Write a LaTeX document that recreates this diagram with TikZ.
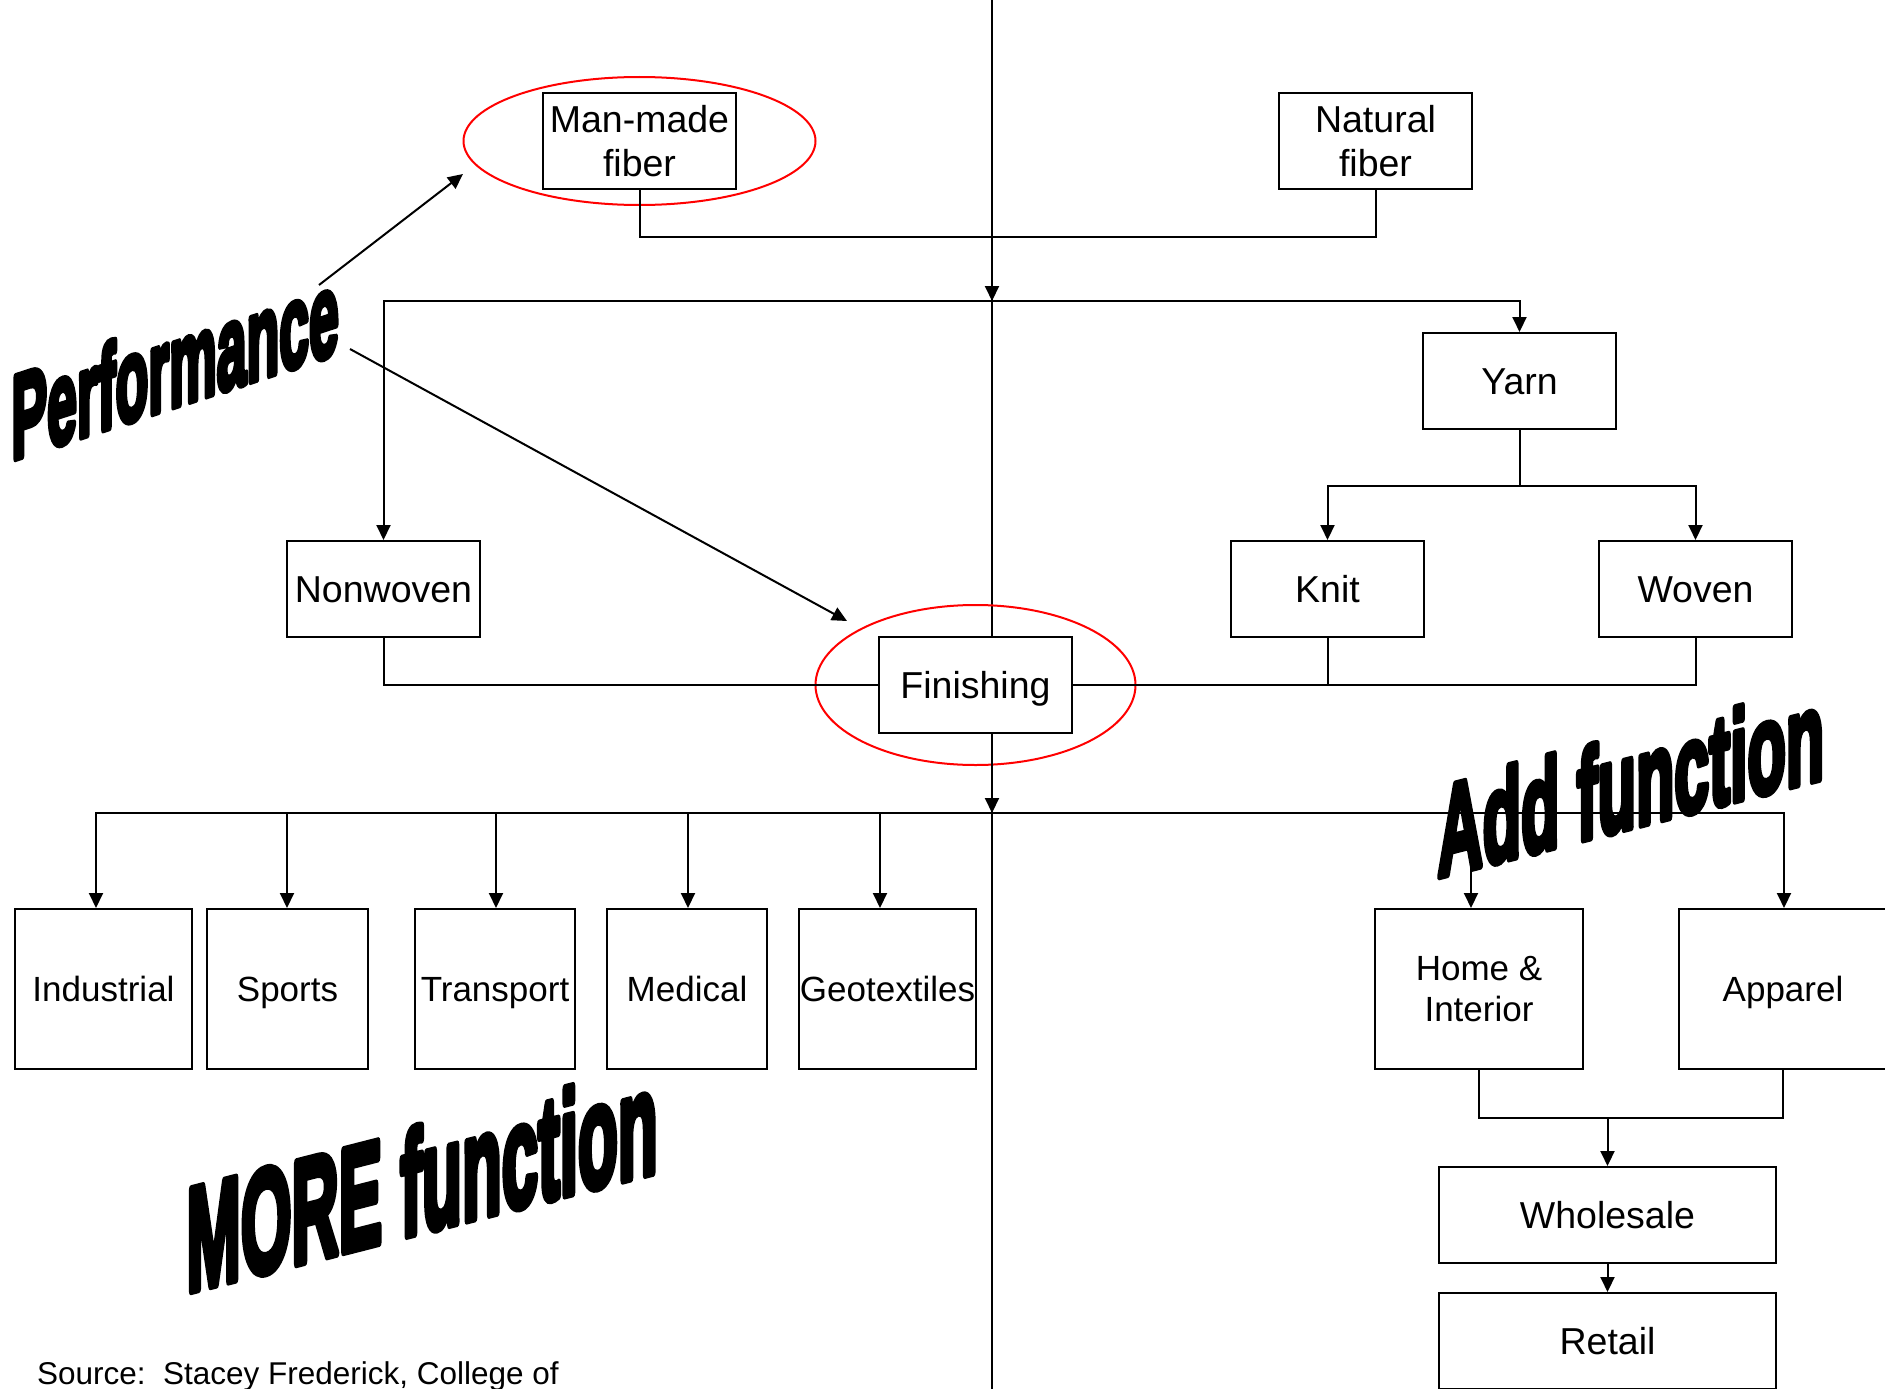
\documentclass[tikz,border=0pt]{standalone}
\usepackage{fontspec}
\setmainfont{Liberation Sans}
\newfontfamily\wordart[FakeBold=6]{Liberation Sans Bold}
\usetikzlibrary{arrows.meta,shapes.geometric}
\begin{document}
\begin{tikzpicture}[x=1pt,y=-1pt,
  line width=2pt,
  box/.style={draw=black, fill=white, line width=2pt, inner sep=0pt, align=center,
    font=\fontsize{35}{43}\selectfont},
  bigtext/.style={font=\fontsize{37.5}{44}\selectfont},
  onebig/.style={bigtext, text height=27pt, text depth=0pt},
  onesmall/.style={text height=25pt, text depth=0pt},
  arr/.style={-{Triangle[length=15pt,width=14pt]}},
  ring/.style={draw=red, line width=2pt, ellipse, inner sep=0pt},
  slanted/.style={transform shape, anchor=base west, inner sep=0pt},
  ]
\useasboundingbox[fill=white] (0,0) rectangle (1885,1389);

% main vertical axis
\coordinate (vtop) at (992,0);
\coordinate (vbot) at (992,1389);
\draw (vtop) -- (vbot);

% boxes
\node[box, bigtext, minimum width=193pt, minimum height=96pt] (man) at (639.5,141) {Man-made\\fiber};
\node[box, bigtext, minimum width=193pt, minimum height=96pt] (nat) at (1375.5,141) {Natural\\fiber};
\node[box, onebig, minimum width=193pt, minimum height=96pt] (yarn) at (1519.5,381) {Yarn};
\node[box, onebig, minimum width=193pt, minimum height=96pt] (knit) at (1327.5,589) {Knit};
\node[box, onebig, minimum width=193pt, minimum height=96pt] (woven) at (1695.5,589) {Woven};
\node[box, onebig, minimum width=193pt, minimum height=96pt] (nonwoven) at (383.5,589) {Nonwoven};
\node[box, onebig, minimum width=193pt, minimum height=96pt] (finish) at (975.5,685) {Finishing};

\node[box, onesmall, minimum width=177pt, minimum height=160pt] (ind) at (103.5,989) {Industrial};
\node[box, onesmall, minimum width=161pt, minimum height=160pt] (sports) at (287.5,989) {Sports};
\node[box, onesmall, minimum width=160pt, minimum height=160pt] (trans) at (495,989) {Transport};
\node[box, onesmall, minimum width=160pt, minimum height=160pt] (med) at (687,989) {Medical};
\node[box, onesmall, minimum width=177pt, minimum height=160pt] (geo) at (887.5,989) {Geotextiles};
\node[box, minimum width=208pt, minimum height=160pt, font=\fontsize{35}{41}\selectfont] (home) at (1479,989) {Home \&\\Interior};
\node[box, onesmall, minimum width=208pt, minimum height=160pt] (app) at (1783,989) {Apparel};
\node[box, onebig, minimum width=337pt, minimum height=96pt] (whole) at (1607.5,1215) {Wholesale};
\node[box, onebig, minimum width=337pt, minimum height=96pt] (retail) at (1607.5,1341) {Retail};

% red highlight ellipses
\node[ring, minimum width=352pt, minimum height=128pt] (manring) at (639.5,141) {};
\node[ring, minimum width=320pt, minimum height=160pt] (finring) at (975.5,685) {};

% junctions
\coordinate (j1) at (992,237);
\coordinate (j2) at (992,301);
\coordinate (j4) at (992,813);

% connectors
\draw (man.south) |- (j1) -| (nat.south);
\draw[arr] (j1) -- (j2);
\draw[arr] (j2) -| (yarn.north);
\draw[arr] (j2) -| (nonwoven.north);
\draw (yarn.south) -- ++(0,56) coordinate (j3);
\draw[arr] (j3) -| (knit.north);
\draw[arr] (j3) -| (woven.north);
\draw (nonwoven.south) |- (finish.west);
\draw (woven.south) |- (finish.east);
\draw (knit.south) -- (knit.south |- finish.east);
\draw[arr] (finish.south -| j4) -- (j4);
\draw[arr] (j4) -| ([xshift=-7.5pt]ind.north);
\draw[arr] (j4) -| ([xshift=-0.5pt]sports.north);
\draw[arr] (j4) -| ([xshift=1pt]trans.north);
\draw[arr] (j4) -| ([xshift=1pt]med.north);
\draw[arr] (j4) -| ([xshift=-7.5pt]geo.north);
\draw[arr] (j4) -| ([xshift=-8pt]home.north);
\draw[arr] (j4) -| ([xshift=1pt]app.north);
\coordinate (j5) at (1607.5,1118);
\draw (home.south) |- (j5);
\draw (app.south) |- (j5);
\draw[arr] (j5) -- (whole.north);
\draw[arr] (whole.south) -- (retail.north);

% performance arrows
\coordinate (pa1) at (319,285);
\coordinate (pa1t) at (463,174);
\coordinate (pa2) at (350,349);
\coordinate (pa2t) at (847,621);
\draw[arr] (pa1) -- (pa1t);
\draw[arr] (pa2) -- (pa2t);

% word art labels
\begin{scope}[shift={(11,460)}, yslant=0.328, line join=round]
  \node[slanted, xscale=0.45, font=\wordart\fontsize{119}{119}\selectfont] (perf) at (0,0) {Performance};
\end{scope}
\begin{scope}[shift={(1437,877)}, yslant=0.256, line join=round]
  \node[slanted, xscale=0.49, font=\wordart\fontsize{128}{128}\selectfont] (addf) at (0,0) {Add function};
\end{scope}
\begin{scope}[shift={(186,1292)}, yslant=0.256, line join=round]
  \node[slanted, xscale=0.444, font=\wordart\fontsize{147}{147}\selectfont] (moref) at (0,0) {MORE function};
\end{scope}

% source
\node[anchor=base west, inner sep=0pt, font=\fontsize{31.5}{36}\selectfont] (src) at (36,1384) {Source:\ \ Stacey Frederick, College of};
\end{tikzpicture}
\end{document}
